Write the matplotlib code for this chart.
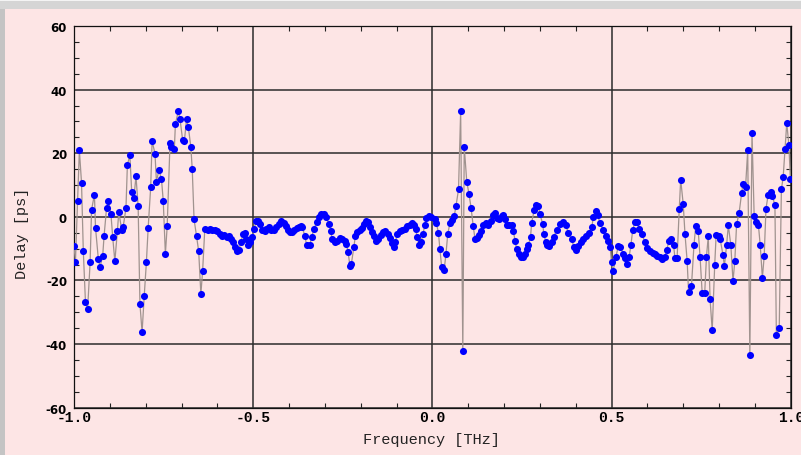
import matplotlib
matplotlib.use("Agg")
import matplotlib.pyplot as plt
from matplotlib.patches import Rectangle
from matplotlib.ticker import MultipleLocator, FixedLocator

# group delay vs frequency, one entry per measured point
freq = [
    -1.000, -0.996, -0.990, -0.985, -0.979, -0.974, -0.968, -0.962, -0.955, -0.951,
    -0.943, -0.940, -0.932, -0.927, -0.920, -0.916, -0.909, -0.904, -0.897, -0.892,
    -0.886, -0.879, -0.875, -0.867, -0.863, -0.855, -0.851, -0.844, -0.839, -0.833,
    -0.827, -0.821, -0.816, -0.810, -0.804, -0.798, -0.793, -0.786, -0.782, -0.774,
    -0.770, -0.763, -0.756, -0.751, -0.745, -0.740, -0.732, -0.728, -0.720, -0.717,
    -0.709, -0.704, -0.697, -0.692, -0.686, -0.681,
    -0.674, -0.670, -0.665, -0.658, -0.652, -0.646, -0.641, -0.635, -0.627, -0.621,
    -0.614, -0.607, -0.600, -0.593, -0.588, -0.581, -0.574, -0.568, -0.562, -0.556,
    -0.551, -0.544, -0.540, -0.534, -0.528, -0.523, -0.519, -0.514, -0.509, -0.503,
    -0.497, -0.492, -0.486, -0.481, -0.475, -0.467, -0.463, -0.456, -0.449, -0.441,
    -0.435, -0.428, -0.421, -0.414, -0.409, -0.402, -0.398, -0.391, -0.386, -0.379,
    -0.373, -0.367, -0.363, -0.356, -0.351,
    -0.342, -0.337, -0.330, -0.323, -0.317, -0.310, -0.302, -0.296, -0.289, -0.283,
    -0.280, -0.272, -0.265, -0.258, -0.252, -0.244, -0.240, -0.235, -0.230, -0.226,
    -0.219, -0.215, -0.209, -0.202, -0.196, -0.190, -0.184, -0.179, -0.175, -0.168,
    -0.163, -0.158, -0.151, -0.144, -0.137, -0.131, -0.125, -0.119, -0.112, -0.107,
    -0.103, -0.098, -0.091, -0.084, -0.077, -0.070, -0.063, -0.057, -0.051, -0.047,
    -0.042, -0.037, -0.032, -0.026, -0.021, -0.017, -0.010, -0.003,
    0.006, 0.011, 0.017, 0.021, 0.026, 0.033, 0.038, 0.043, 0.049, 0.054,
    0.061, 0.066, 0.073, 0.079, 0.085, 0.089, 0.096, 0.102, 0.108, 0.114,
    0.119, 0.124, 0.130, 0.136, 0.142, 0.150, 0.156, 0.163, 0.168, 0.175,
    0.181, 0.187, 0.194, 0.198, 0.204, 0.209, 0.215, 0.221, 0.226, 0.231,
    0.235, 0.242, 0.247, 0.252, 0.259, 0.263, 0.268, 0.274, 0.277, 0.284,
    0.289, 0.296, 0.300, 0.308, 0.311, 0.317, 0.321, 0.326, 0.333, 0.339,
    0.347, 0.356, 0.365, 0.373, 0.379, 0.389, 0.395, 0.401, 0.407, 0.414,
    0.421, 0.429, 0.438, 0.445, 0.449, 0.456, 0.461, 0.468, 0.477, 0.484,
    0.491, 0.496, 0.500, 0.505, 0.512, 0.519, 0.525, 0.533, 0.538, 0.544,
    0.549, 0.554, 0.559, 0.565, 0.572, 0.577, 0.584, 0.593, 0.600, 0.607,
    0.615, 0.621, 0.627, 0.635, 0.642, 0.649, 0.654, 0.661, 0.666,
    0.673, 0.677, 0.683, 0.689, 0.693, 0.700, 0.705, 0.711, 0.715, 0.723,
    0.730, 0.735, 0.742, 0.747, 0.753, 0.760, 0.765, 0.770, 0.775, 0.781,
    0.788, 0.792, 0.799, 0.803, 0.811, 0.815, 0.821, 0.826, 0.833, 0.839,
    0.844, 0.849, 0.856, 0.863, 0.867, 0.874, 0.880, 0.886, 0.892, 0.898,
    0.904, 0.910, 0.915, 0.921, 0.926, 0.931, 0.937, 0.944, 0.949, 0.956,
    0.960, 0.968, 0.974, 0.979, 0.984, 0.989, 0.995, 0.999,
]

delay = [
    -9.2, -14.1, 5.1, 20.9, 10.7, -10.9, -26.9, -29.0, -14.3, 2.2,
    7.0, -3.4, -13.4, -15.7, -12.4, -5.9, 2.9, 5.1, 1.0, -6.4,
    -14.0, -4.6, 1.5, -4.0, -3.3, 2.7, 16.4, 19.3, 7.8, 6.0,
    12.7, 3.3, -27.4, -36.3, -24.8, -14.3, -3.4, 9.3, 23.9, 19.8,
    11.1, 14.6, 12.0, 5.1, -11.7, -3.0, 23.3, 22.1, 21.3, 29.2,
    33.2, 30.6, 24.3, 23.8, 30.6, 28.3,
    22.0, 14.9, -0.8, -6.1, -10.9, -24.3, -16.9, -3.8, -4.0, -3.8,
    -4.3, -4.0, -4.6, -5.4, -5.9, -5.7, -6.2, -5.9, -6.9, -8.0,
    -9.5, -10.6, -10.3, -8.0, -5.4, -5.1, -6.9, -8.8, -8.0, -6.4,
    -3.8, -1.2, -1.2, -2.2, -4.0, -4.6, -3.8, -3.3, -4.0, -4.3,
    -3.3, -2.2, -1.2, -1.8, -2.9, -4.3, -4.8, -4.8, -4.3, -3.6,
    -3.3, -2.9, -3.3, -5.9, -8.8,
    -9.0, -6.4, -3.8, -1.7, -0.1, 0.9, 0.9, -0.1, -2.2, -4.6,
    -7.1, -8.0, -7.5, -6.7, -6.9, -7.5, -8.5, -11.1, -15.5, -14.8,
    -9.5, -6.1, -4.8, -4.3, -3.6, -2.2, -1.2, -1.7, -3.3, -4.8,
    -6.1, -7.5, -6.9, -5.7, -4.8, -4.6, -5.4, -6.7, -8.2, -9.5,
    -8.0, -5.4, -4.6, -4.0, -3.8, -2.9, -2.5, -2.0, -2.7, -3.8,
    -6.4, -9.0, -8.0, -5.4, -2.7, -0.4, 0.2, -0.1,
    -0.6, -1.9, -5.0, -10.1, -15.8, -16.6, -11.7, -5.4, -2.0, -0.9,
    0.2, 3.4, 8.6, 33.2, -42.3, 22.0, 11.1, 7.3, 2.9, -2.9,
    -6.9, -6.7, -5.7, -4.6, -2.7, -2.0, -2.5, -1.2, 0.6, 1.3,
    -0.4, -0.8, 0.2, 0.6, -0.8, -2.5, -2.5, -2.7, -4.6, -7.5,
    -10.1, -11.7, -12.7, -12.7, -11.7, -10.1, -8.8, -6.4, -1.9, 2.0,
    3.8, 3.4, 0.9, -2.2, -5.4, -8.0, -9.0, -9.2, -8.0, -6.4,
    -4.0, -2.2, -1.5, -2.7, -5.0, -7.1, -9.5, -10.3, -9.2, -8.0,
    -6.9, -6.1, -5.0, -3.3, -0.1, 1.7, 0.6, -1.9, -4.3, -6.1,
    -7.5, -9.5, -14.3, -16.9, -12.7, -9.2, -9.5, -11.7, -13.0, -14.8,
    -12.7, -9.0, -4.3, -1.7, -1.5, -3.8, -5.4, -7.8, -9.9, -10.6,
    -11.3, -11.7, -12.2, -12.7, -13.2, -12.7, -10.3, -7.5, -6.9,
    -8.8, -13.0, -13.0, 2.5, 11.7, 4.1, -5.4, -13.9, -23.6, -21.9,
    -9.0, -2.9, -4.5, -12.5, -24.0, -24.0, -12.5, -6.1, -26.0, -35.7,
    -15.0, -5.6, -6.1, -6.9, -12.0, -15.5, -9.0, -2.7, -9.0, -20.3,
    -13.9, -2.4, 1.2, 7.4, 10.4, 9.3, 20.9, -43.5, 26.5, 0.4,
    -1.5, -2.7, -9.0, -19.2, -12.4, 2.5, 6.9, 7.8, 6.5, 3.6,
    -37.2, -35.1, 8.6, 12.5, 21.2, 29.5, 22.5, 12.0,
]

x_ticks = [-1.0, -0.5, 0.0, 0.5, 1.0]
x_ticklabels = ["-1.0", "-0.5", "0.0", "0.5", "1.0"]
y_ticks = [-60, -40, -20, 0, 20, 40, 60]
y_ticklabels = ["-60", "-40", "-20", "0", "20", "40", "60"]

plt.rcParams['axes.unicode_minus'] = False

W, H = 801, 456
fig = plt.figure(figsize=(W / 100, H / 100), dpi=100)
fig.patch.set_facecolor('#fde5e5')

# window chrome around the plot
fig.patches.append(Rectangle((0, 1 - 10 / H), 1, 10 / H, transform=fig.transFigure,
                             facecolor='#d5d5d5', edgecolor='none', zorder=0))
fig.patches.append(Rectangle((0, 1 - 2 / H), 1, 2 / H, transform=fig.transFigure,
                             facecolor='#f4f4f4', edgecolor='none', zorder=0))
fig.patches.append(Rectangle((0, 0), 5 / W, 1 - 10 / H, transform=fig.transFigure,
                             facecolor='#c4c4c4', edgecolor='none', zorder=0))

ax = fig.add_axes([74 / W, 47.4 / H, 716.7 / W, 381.6 / H])
ax.set_facecolor('#fde5e5')

ax.plot(freq, delay, '-', color='#a0938f', lw=0.9, zorder=3)
ax.plot(freq, delay, 'o', color='#0000ff', ms=5.1, mew=0, zorder=4)

ax.set_xlim(-1, 1)
ax.set_ylim(-60, 60)

ax.xaxis.set_major_locator(FixedLocator(x_ticks))
ax.yaxis.set_major_locator(FixedLocator(y_ticks))
ax.xaxis.set_minor_locator(MultipleLocator(0.1))
ax.yaxis.set_minor_locator(MultipleLocator(5))
ax.set_xticklabels(x_ticklabels, fontfamily='Liberation Mono', fontweight='bold', fontsize=10.5)
ax.set_yticklabels(y_ticklabels, fontfamily='DejaVu Sans', fontweight='bold', fontsize=8.5)

ax.tick_params(axis='both', which='major', direction='in', length=0, width=0.8)
ax.tick_params(axis='x', which='major', pad=1.5)
ax.tick_params(axis='y', which='major', pad=5)
ax.tick_params(axis='both', which='minor', direction='in', length=3.5, width=0.8,
               top=True, right=True, color='#222222')

ax.grid(True, which='major', color='#2b2b2b', lw=1.1, zorder=1)
for s in ax.spines.values():
    s.set_color('#111111')
    s.set_linewidth(0.9)

fig.text(431 / W, 1 - 440 / H, 'Frequency [THz]', ha='center', va='center',
         fontfamily='Liberation Mono', fontsize=11, color='#222222')
fig.text(22 / W, 1 - 233 / H, 'Delay [ps]', ha='center', va='center', rotation=90,
         fontfamily='Liberation Mono', fontsize=11, color='#222222')

fig.savefig('out.png', dpi=100, facecolor=fig.get_facecolor())
